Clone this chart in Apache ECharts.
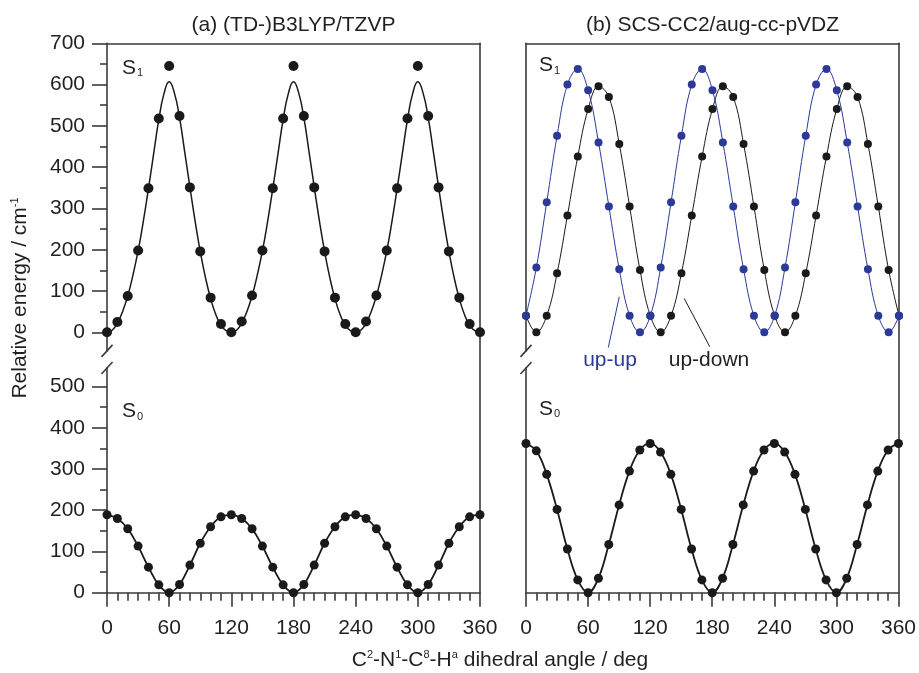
<!DOCTYPE html>
<html><head><meta charset="utf-8">
<script src="https://cdn.jsdelivr.net/npm/echarts@6/dist/echarts.min.js"></script>
<style>html,body{margin:0;padding:0;background:#fff}#c{width:919px;height:673px}</style>
</head><body><div id="c"></div>
<script>
// ---------------- data ----------------
const angles = [0,10,20,30,40,50,60,70,80,90,100,110,120,130,140,150,160,170,180,190,200,210,220,230,240,250,260,270,280,290,300,310,320,330,340,350,360];
// (a) TD-B3LYP S1 computed points
const s1LeftPts = [0,25,88,198,349,518,645,524,351,196,84,20,0,26,89,198,349,518,645,524,351,196,84,20,0,26,89,198,349,518,645,524,351,196,84,20,0];
// (a) S1 fitted curve, sampled every 5 deg
const fitAngles = [0,5,10,15,20,25,30,35,40,45,50,55,60,65,70,75,80,85,90,95,100,105,110,115,120,125,130,135,140,145,150,155,160,165,170,175,180,185,190,195,200,205,210,215,220,225,230,235,240,245,250,255,260,265,270,275,280,285,290,295,300,305,310,315,320,325,330,335,340,345,350,355,360];
const s1LeftFit = [0,5,22,50,88,138,197,268,348,432,515,578,607,580,520,437,352,270,196,133,82,43,17,4,
                   0,5,22,50,88,138,197,268,348,432,515,578,607,580,520,437,352,270,196,133,82,43,17,4,
                   0,5,22,50,88,138,197,268,348,432,515,578,607,580,520,437,352,270,196,133,82,43,17,4,0];
// (a) S0
const s0Left = [189,180,155,113,62,19,0,20,67,120,160,184,189,180,155,113,62,19,0,20,67,120,160,184,189,180,155,113,62,19,0,20,67,120,160,184,189];
// (b) SCS-CC2 S1
const upUp   = [40,157,315,476,600,638,586,460,305,153,40,0,40,157,315,476,600,638,586,460,305,153,40,0,40,157,315,476,600,638,586,460,305,153,40,0,40];
const upDown = [40,0,40,143,283,426,541,596,570,456,305,151,40,0,40,143,283,426,541,596,570,456,305,151,40,0,40,143,283,426,541,596,570,456,305,151,40];
// (b) S0
const s0Right = [362,344,287,202,106,31,0,35,117,213,295,346,362,341,287,202,106,31,0,35,117,213,295,346,362,341,287,202,106,31,0,35,117,213,295,346,362];
// tick values
const yUpperMajor = [0,100,200,300,400,500,600,700];
const yUpperMinor = [50,150,250,350,450,550,650];
const yLowerMajor = [0,100,200,300,400,500];
const yLowerMinor = [50,150,250,350,450];
// annotation pointer lines (angle, energy) on panel (b) S1
const upUpPointer = [[90,86],[79.4,-37]];
const upDownPointer = [[152.7,82],[177.4,-35]];

// ---------------- style ----------------
const FONT = "'Liberation Sans', Arial, Helvetica, sans-serif";
const FS = 21;
const TXT = '#231f20';
const AX = '#3a3a3a';
const BLUE = '#2b3a97';
const DOT = '#1a1a1a';
const AXW = 1.6;

const L = 107, R = 526, W = 373;
const TOP = 43.3, UPBOT = 350.9, LOTOP = 368, LOBOT = 592.7;
const UPMIN = -45, UPMAX = 700, LOMIN = 0, LOMAX = 545;

const chart = echarts.init(document.getElementById('c'), null, {renderer:'canvas'});

function g(left, top, bottomY){ return {left:left, top:top, width:W, height:bottomY-top, containLabel:false}; }
const lineStyle = {color:AX, width:AXW};

function topX(gi){ return {type:'value', gridIndex:gi, min:0, max:360, position:'top',
  axisLine:{show:true, onZero:false, lineStyle:lineStyle}, axisTick:{show:false}, axisLabel:{show:false}, splitLine:{show:false}}; }
function bottomX(gi){ return {type:'value', gridIndex:gi, min:0, max:360, interval:60, position:'bottom',
  axisLine:{show:true, onZero:false, lineStyle:lineStyle},
  axisTick:{show:true, length:14, inside:false, lineStyle:lineStyle},
  minorTick:{show:true, splitNumber:6, length:8, lineStyle:lineStyle},
  axisLabel:{show:true, margin:25, fontSize:FS, color:TXT, fontFamily:FONT},
  splitLine:{show:false}, minorSplitLine:{show:false}}; }
function hiddenX(gi){ return {type:'value', gridIndex:gi, min:0, max:360, show:false}; }

function mainY(gi, min, max, major, showTicks){ return {type:'value', gridIndex:gi, min:min, max:max, position:'left',
  axisLine:{show:true, onZero:false, lineStyle:lineStyle},
  axisTick:{show:showTicks, length:15, inside:false, customValues:major, lineStyle:lineStyle},
  axisLabel:{show:showTicks, customValues:major, margin:22, fontSize:FS, color:TXT, fontFamily:FONT},
  splitLine:{show:false}}; }
function minorY(gi, min, max, minor, showTicks){ return {type:'value', gridIndex:gi, min:min, max:max, position:'left',
  axisLine:{show:false},
  axisTick:{show:showTicks, length:7, inside:false, customValues:minor, lineStyle:lineStyle},
  axisLabel:{show:false}, splitLine:{show:false}}; }
function frameY(gi){ return {type:'value', gridIndex:gi, min:0, max:1, position:'right',
  axisLine:{show:true, onZero:false, lineStyle:lineStyle}, axisTick:{show:false}, axisLabel:{show:false}, splitLine:{show:false}}; }

function zip(xs, ys){ return xs.map(function(x,i){ return [x, ys[i]]; }); }

const option = {
  animation:false,
  backgroundColor:'#fff',
  grid:[g(L,TOP,UPBOT), g(L,LOTOP,LOBOT), g(R,TOP,UPBOT), g(R,LOTOP,LOBOT), g(L,TOP,LOBOT), g(R,TOP,LOBOT)],
  xAxis:[topX(0), bottomX(1), topX(2), bottomX(3), hiddenX(4), hiddenX(5)],
  yAxis:[
    mainY(0, UPMIN, UPMAX, yUpperMajor, true), minorY(0, UPMIN, UPMAX, yUpperMinor, true),
    mainY(1, LOMIN, LOMAX, yLowerMajor, true), minorY(1, LOMIN, LOMAX, yLowerMinor, true),
    mainY(2, UPMIN, UPMAX, yUpperMajor, false), mainY(3, LOMIN, LOMAX, yLowerMajor, false),
    frameY(4), frameY(5)
  ],
  series:[
    {type:'line', xAxisIndex:0, yAxisIndex:0, data:zip(fitAngles, s1LeftFit), smooth:0.5, showSymbol:false, symbol:'none',
     lineStyle:{color:DOT, width:1.5}, z:3},
    {type:'scatter', xAxisIndex:0, yAxisIndex:0, data:zip(angles, s1LeftPts), symbolSize:10, itemStyle:{color:DOT, opacity:1}, clip:false, z:4},
    {type:'line', xAxisIndex:1, yAxisIndex:2, data:zip(angles, s0Left), smooth:0.4, symbol:'circle', symbolSize:9, showSymbol:true,
     itemStyle:{color:DOT}, lineStyle:{color:DOT, width:1.8}, clip:false, z:4},
    {type:'line', xAxisIndex:2, yAxisIndex:4, data:zip(angles, upDown), smooth:0.4, symbol:'circle', symbolSize:8, showSymbol:true,
     itemStyle:{color:DOT}, lineStyle:{color:DOT, width:1}, clip:false, z:4},
    {type:'line', xAxisIndex:2, yAxisIndex:4, data:zip(angles, upUp), smooth:0.4, symbol:'circle', symbolSize:8, showSymbol:true,
     itemStyle:{color:BLUE}, lineStyle:{color:BLUE, width:1}, clip:false, z:5},
    {type:'line', xAxisIndex:3, yAxisIndex:5, data:zip(angles, s0Right), smooth:0.4, symbol:'circle', symbolSize:9, showSymbol:true,
     itemStyle:{color:DOT}, lineStyle:{color:DOT, width:1.8}, clip:false, z:4},
    {type:'line', xAxisIndex:2, yAxisIndex:4, data:upUpPointer, symbol:'none', lineStyle:{color:BLUE, width:1}, clip:false, z:3},
    {type:'line', xAxisIndex:2, yAxisIndex:4, data:upDownPointer, symbol:'none', lineStyle:{color:DOT, width:1}, clip:false, z:3}
  ]
};
chart.setOption(option);

function sLabel(x, y, sub){
  return {type:'text', x:x, y:y, z:10, style:{text:'{s|S}{b|'+sub+'}', align:'left', verticalAlign:'middle',
    rich:{s:{fontSize:21, fontFamily:FONT, fill:TXT, lineHeight:22, verticalAlign:'bottom'},
          b:{fontSize:11, fontFamily:FONT, fill:TXT, lineHeight:12, verticalAlign:'bottom', padding:[0,0,0,1]}}}};
}
function plain(x, y, txt, color, size){
  return {type:'text', x:x, y:y, z:10, style:{text:txt, align:'center', verticalAlign:'middle', fontSize:size||FS, fontFamily:FONT, fill:color||TXT}};
}
function breakMark(p){
  return {type:'line', z:10, shape:{x1:p[0]-5.5, y1:p[1]+6, x2:p[0]+5.5, y2:p[1]-6}, style:{stroke:AX, lineWidth:AXW}};
}
const pUL = chart.convertToPixel({xAxisIndex:0, yAxisIndex:0}, [0, UPMIN]);
const pLL = chart.convertToPixel({xAxisIndex:1, yAxisIndex:2}, [0, LOMAX]);
const pUR = chart.convertToPixel({xAxisIndex:2, yAxisIndex:4}, [0, UPMIN]);
const pLR = chart.convertToPixel({xAxisIndex:3, yAxisIndex:5}, [0, LOMAX]);

const sup = {fontSize:11, fontFamily:FONT, fill:TXT, lineHeight:12, verticalAlign:'top'};
const nrm = {fontSize:FS, fontFamily:FONT, fill:TXT, lineHeight:23, verticalAlign:'top'};

chart.setOption({graphic:[
  plain(293.5, 25, '(a) (TD-)B3LYP/TZVP'),
  plain(712.5, 25, '(b) SCS-CC2/aug-cc-pVDZ'),
  sLabel(122, 67.5, '1'), sLabel(122, 411, '0'),
  sLabel(539, 65, '1'), sLabel(539, 408.5, '0'),
  plain(610, 360, 'up-up', BLUE),
  plain(709, 360, 'up-down', TXT),
  breakMark(pUL), breakMark(pLL), breakMark(pUR), breakMark(pLR),
  {type:'text', x:500, y:661, z:10, style:{text:'{n|C}{p|2}{n|-N}{p|1}{n|-C}{p|8}{n|-H}{p|a}{n| dihedral angle / deg}',
     align:'center', verticalAlign:'middle', rich:{n:nrm, p:sup}}},
  {type:'text', x:21, y:298, rotation:Math.PI/2, z:10, style:{text:'{n|Relative energy / cm}{p|-1}',
     align:'center', verticalAlign:'middle', rich:{n:nrm, p:sup}}}
]});
</script></body></html>
